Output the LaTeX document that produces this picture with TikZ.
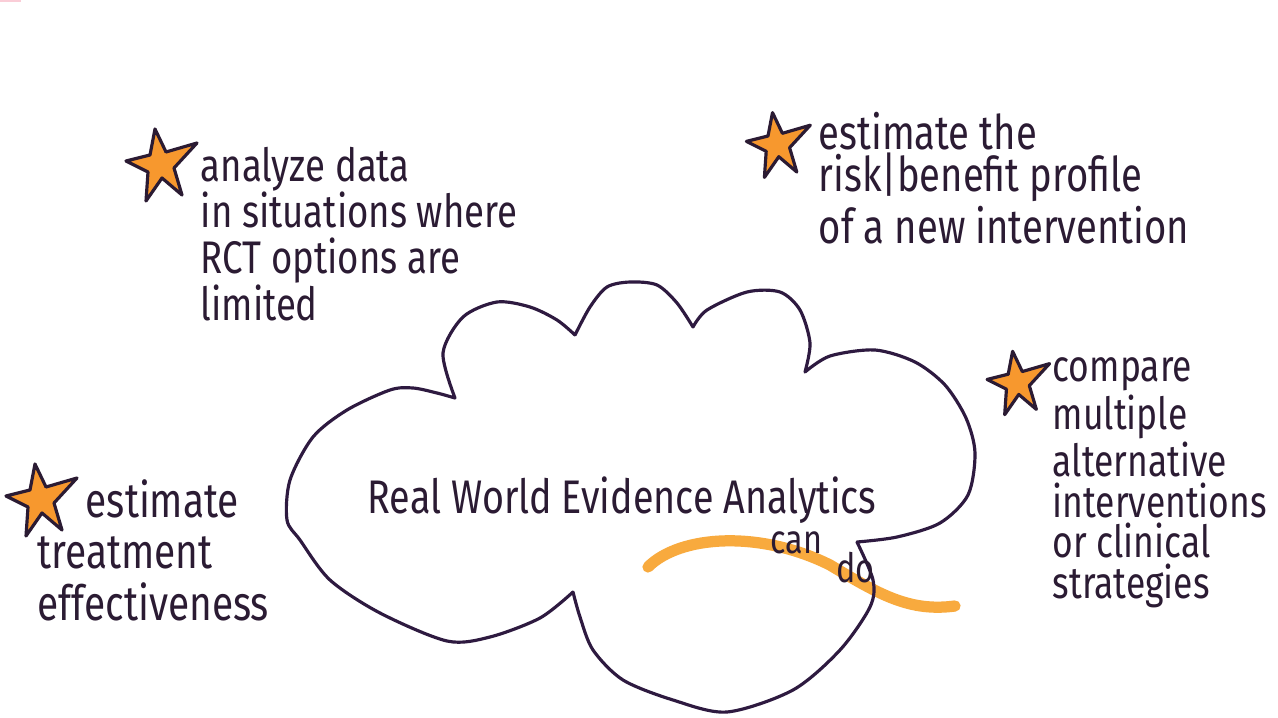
\documentclass[tikz,border=0pt]{standalone}
\usepackage{fontspec}
\usepackage{tikz}
\usetikzlibrary{positioning}
\newfontfamily\handfont[FakeStretch=0.8]{Fira Sans}
\definecolor{MarkerInk}{RGB}{43,27,51}
\definecolor{CloudInk}{RGB}{46,26,64}
\definecolor{StarOrange}{RGB}{247,152,46}
\definecolor{HighlightOrange}{RGB}{248,170,62}
\definecolor{CornerPink}{RGB}{250,205,215}

\begin{document}
\begin{tikzpicture}[
x=0.01cm, y=-0.01cm,
hand/.style={
text=MarkerInk,
align=left,
inner sep=0pt,
anchor=base west
},
note/.style 2 args={hand, font=\handfont\fontsize{#1}{#2}\selectfont},
outline/.style={draw=CloudInk, line width=0.9pt, line cap=round, line join=round},
highlight/.style={draw=HighlightOrange, line width=3.2pt, line cap=round},
starline/.style={draw=MarkerInk, fill=StarOrange, line width=0.9pt, line join=round},
hstar/.pic={
\draw[starline] (-5,-36) -- (6,-13) -- (37,-22) -- (14,3) -- (22,30)
 -- (2,13) -- (-14,36) -- (-12,7) -- (-34,-4) -- (-10,-10) -- cycle;
}
]
\useasboundingbox[fill=white] (0,0) rectangle (1278,718);
\fill[CornerPink] (0,0) rectangle (21,2);

% highlight under the cloud text
\draw[highlight] (648,567) .. controls (680,535) and (760,530) .. (830,565)
 .. controls (880,595) and (910,612) .. (955,606);

% the cloud
\draw[outline]
 plot[smooth] coordinates {(455,398) (443,353) (463,317) (497,302) (530,307) (557,320) (575,335)}
 plot[smooth] coordinates {(575,335) (590,307) (607,287) (630,282) (657,285) (677,303) (693,327)}
 plot[smooth] coordinates {(693,327) (707,310) (747,292) (780,292) (800,310) (810,343) (805,372)}
 plot[smooth] coordinates {(805,372) (830,356) (875,350) (915,362) (945,385) (966,418) (975,453)
  (968,495) (940,523) (897,537) (857,542)}
 plot[smooth] coordinates {(857,542) (873,580) (870,607) (840,650) (793,690) (727,712) (673,700)
  (623,680) (593,650) (580,617) (573,592)}
 plot[smooth] coordinates {(573,592) (540,618) (490,637) (447,641) (380,613) (330,580) (300,540)
  (287,520) (290,480) (313,437) (347,410) (390,390) (413,388) (437,393) (455,398)};

\node[note={13.4}{14}] (rwe) at (367,513) {Real World Evidence Analytics};
\node[note={11.5}{13}] (cando) at (770,553) {can\hspace{4pt}\raisebox{-8.5pt}{do}};

% stars and notes (anchored on the baseline of the last line)
\pic at (160,165) {hstar};
\node[note={13}{13.1}] (limits) at (200,320) {analyze data\\in situations where\\RCT options are\\limited};

\pic[scale=0.9] at (777,145) {hstar};
\node[note={13.6}{12.2}] (riskprofile) at (818,243) {estimate the\\risk|benefit profile\\of a new intervention};

\pic[scale=0.88] at (1017,383) {hstar};
\node[note={12.6}{11.5}] (compare) at (1052,598) {compare\\multiple\\alternative\\interventions\\or clinical\\strategies};

\pic at (40,500) {hstar};
\node[note={13.8}{14.6}] (effect) at (37,620) {\hspace*{0.48cm}estimate\\treatment\\effectiveness};

\end{tikzpicture}
\end{document}
